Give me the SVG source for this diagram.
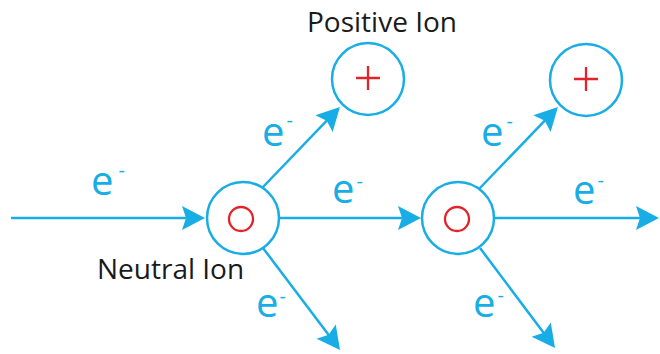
<svg xmlns="http://www.w3.org/2000/svg" width="660" height="354" viewBox="0 0 660 354">
<style>
.wire{fill:none;stroke:#19ade6;stroke-width:2.5;marker-end:url(#ah)}
.ion{fill:#fff;stroke:#19ade6;stroke-width:2.5}
.core{fill:none;stroke:#e3232c;stroke-width:2.3}
.lbl{font-family:"Open Sans","DejaVu Sans",sans-serif;fill:#19ade6;font-size:40px}
.sup{font-size:20px}
.cap{font-family:"Open Sans","DejaVu Sans",sans-serif;fill:#1a1a1a;font-size:28px}
</style>
<defs>
<marker id="ah" viewBox="-14 -13 24 26" markerWidth="24" markerHeight="26" refX="0" refY="0" orient="auto" markerUnits="userSpaceOnUse">
<path d="M10,0 L-13,-12 L-9,0 L-13,12 Z" fill="#19ade6"/>
</marker>
</defs>
<g id="connectors">
<line class="wire" x1="11" y1="218" x2="195" y2="218"/>
<line class="wire" x1="279" y1="218" x2="411" y2="218"/>
<line class="wire" x1="494" y1="218" x2="649" y2="218"/>
<line class="wire" x1="263" y1="187" x2="333" y2="114.2"/>
<line class="wire" x1="263" y1="248" x2="334" y2="342"/>
<line class="wire" x1="479" y1="189" x2="551" y2="114.2"/>
<line class="wire" x1="480" y1="248" x2="549" y2="340"/>
</g>
<g id="neutral1">
<circle class="ion" cx="243" cy="218" r="36"/>
<circle class="core" cx="241" cy="219" r="12"/>
</g>
<g id="neutral2">
<circle class="ion" cx="458" cy="218" r="36"/>
<circle class="core" cx="457" cy="219" r="12"/>
</g>
<g id="positive1">
<circle class="ion" cx="368" cy="79" r="36"/>
<path class="core" d="M356,78 H380 M368,66 V90"/>
</g>
<g id="positive2">
<circle class="ion" cx="586" cy="80" r="36"/>
<path class="core" d="M574,79 H598 M586,67 V91"/>
</g>
<g id="labels">
<text class="cap" x="307" y="32">Positive Ion</text>
<text class="cap" x="97" y="279">Neutral Ion</text>
<text class="lbl" x="91" y="195">e<tspan class="sup" x="118.5" y="177.2">-</tspan></text>
<text class="lbl" x="332" y="203">e<tspan class="sup" x="356.5" y="188.2">-</tspan></text>
<text class="lbl" x="262" y="146">e<tspan class="sup" x="286.5" y="127.2">-</tspan></text>
<text class="lbl" x="256" y="317">e<tspan class="sup" x="279.5" y="303.2">-</tspan></text>
<text class="lbl" x="481" y="146">e<tspan class="sup" x="506.5" y="128.2">-</tspan></text>
<text class="lbl" x="573" y="204">e<tspan class="sup" x="597.5" y="187.2">-</tspan></text>
<text class="lbl" x="473" y="317">e<tspan class="sup" x="497.5" y="302.2">-</tspan></text>
</g>
</svg>
